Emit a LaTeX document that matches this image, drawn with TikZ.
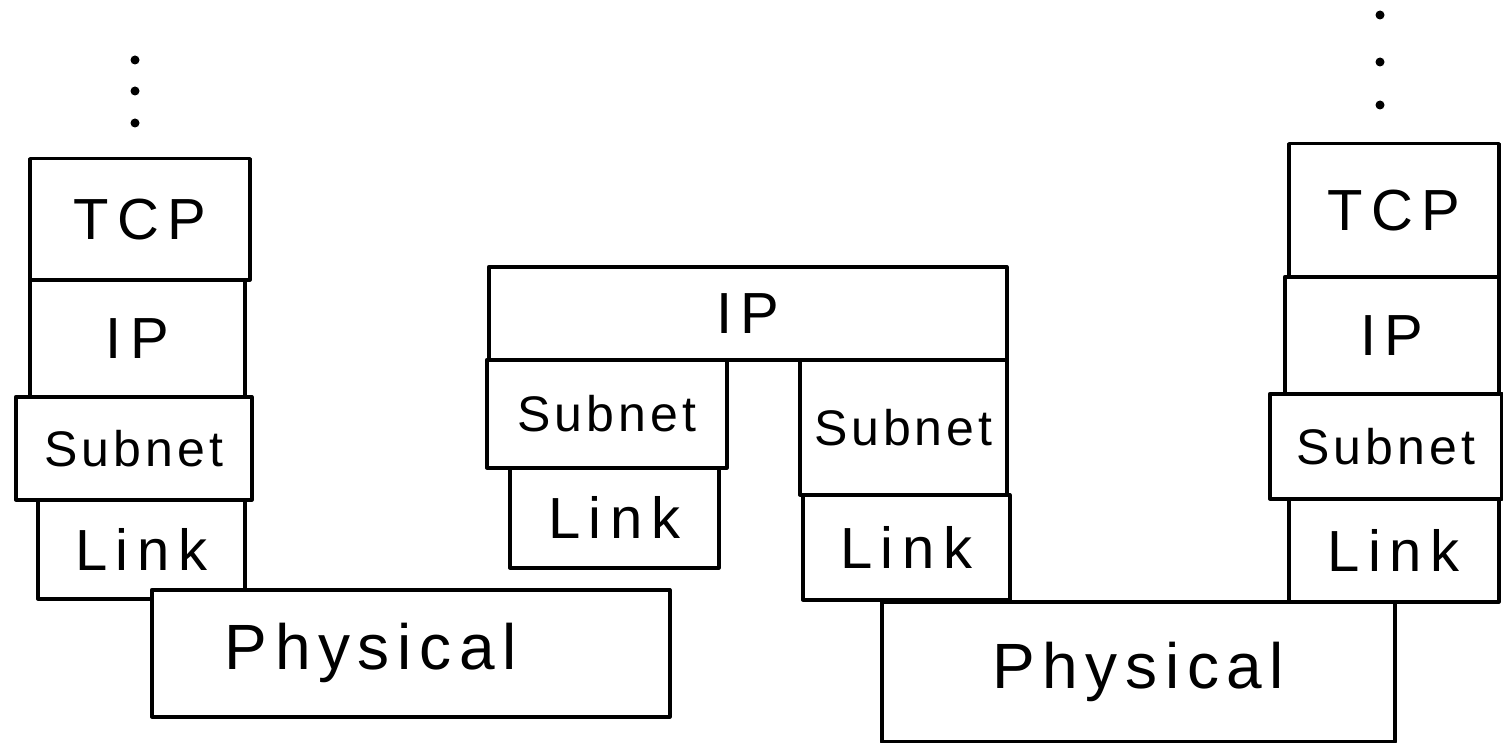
\documentclass[tikz,border=0pt]{standalone}
\usepackage{fontspec}
\setmainfont{Liberation Sans}
\begin{document}
\begin{tikzpicture}[x=1pt,y=-1pt,
  blk/.style={draw=black, line width=3.5pt, line join=round, inner sep=0pt, anchor=north west, fill=white},
  big/.style={font=\fontsize{58}{62}\selectfont\addfontfeature{LetterSpace=15}},
  mid/.style={font=\fontsize{50}{54}\selectfont\addfontfeature{LetterSpace=8}},
  phy/.style={font=\fontsize{64}{68}\selectfont\addfontfeature{LetterSpace=12}},
  dot/.style={circle, fill=black, inner sep=0pt, minimum size=9pt}]
\useasboundingbox (0,0) rectangle (1503,743);
\fill[white] (0,0) rectangle (1503,743);

% left host stack
\node[blk, big, minimum width=220pt, minimum height=121pt] (ltcp) at (28,157) {TCP};
\node[blk, big, minimum width=215pt, minimum height=117pt] (lip) at (28,278) {IP};
\node[blk, mid, minimum width=236pt, minimum height=103pt] (lsub) at (14,395) {Subnet};
\node[blk, big, minimum width=207pt, minimum height=99pt] (llink) at (36,498) {Link};
\node[dot] (ld1) at (135,60) {};
\node[dot] (ld2) at (135,91) {};
\node[dot] (ld3) at (135,123) {};

% left physical medium
\node[blk, minimum width=518pt, minimum height=127pt] (lphy) at (150,588) {};
\node[phy] (lphyt) at ([xshift=-40pt]lphy.center) {Physical};

% router
\node[blk, big, minimum width=518pt, minimum height=93pt] (rip) at (487,265) {IP};
\node[blk, mid, minimum width=240pt, minimum height=108pt] (rsubl) at (485,358) {Subnet};
\node[blk, big, minimum width=209pt, minimum height=100pt] (rlinkl) at (508,466) {Link};
\node[blk, mid, minimum width=207pt, minimum height=135pt] (rsubr) at (798,358) {Subnet};
\node[blk, big, minimum width=207pt, minimum height=105pt] (rlinkr) at (801,493) {Link};

% right physical medium
\node[blk, phy, minimum width=513pt, minimum height=140pt] (rphy) at (880,600) {Physical};

% right host stack
\node[blk, big, minimum width=210pt, minimum height=133pt] (rtcp) at (1287,142) {TCP};
\node[blk, big, minimum width=214pt, minimum height=117pt] (rhip) at (1283,275) {IP};
\node[blk, mid, minimum width=232pt, minimum height=105pt] (rhsub) at (1268,392) {Subnet};
\node[blk, big, minimum width=210pt, minimum height=103pt] (rhlink) at (1287,497) {Link};
\node[dot] (rd1) at (1380,15) {};
\node[dot] (rd2) at (1380,62) {};
\node[dot] (rd3) at (1380,105) {};
\end{tikzpicture}
\end{document}
